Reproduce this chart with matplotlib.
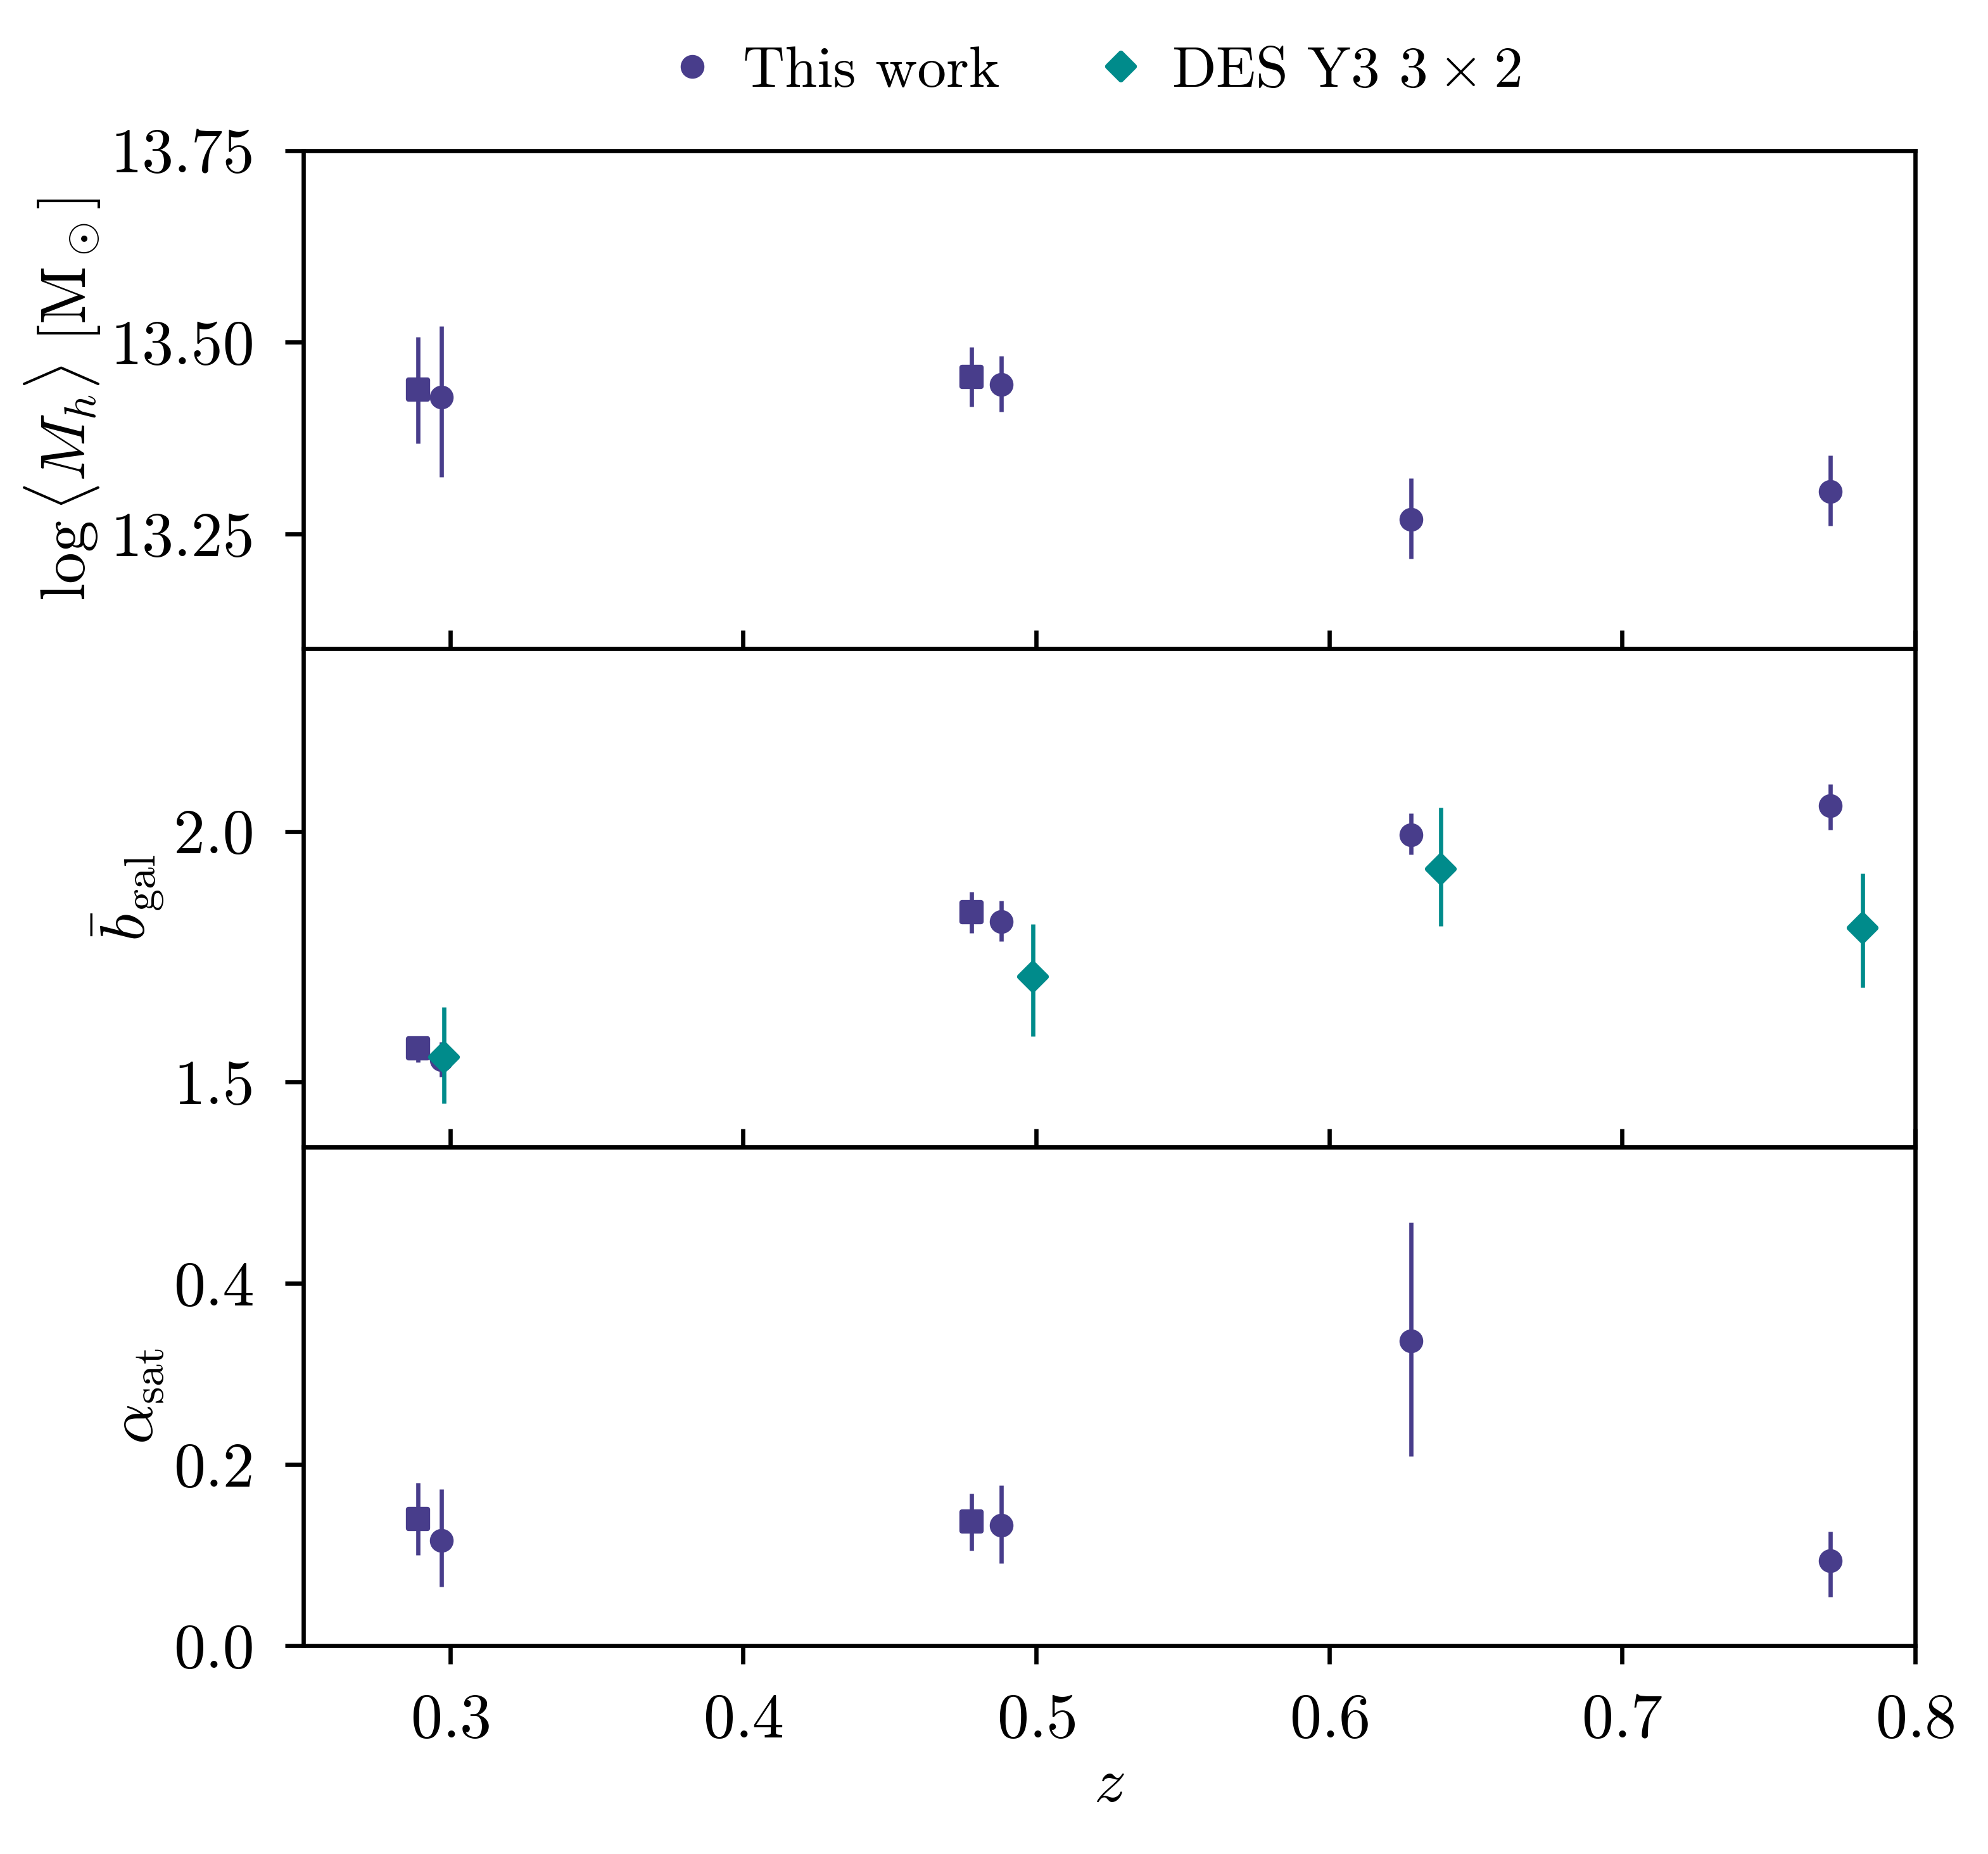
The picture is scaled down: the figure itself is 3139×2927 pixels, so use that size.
import matplotlib
matplotlib.use("Agg")
import matplotlib.pyplot as plt
from matplotlib.lines import Line2D
from matplotlib.markers import MarkerStyle

# redshifts of each sample
z_this = [0.297, 0.488, 0.628, 0.771]
z_sq = [0.289, 0.478]
z_des = [0.298, 0.499, 0.638, 0.782]

# log <M_h>
mh_this = [13.428, 13.445, 13.269, 13.305]
mh_this_lo = [0.104, 0.036, 0.051, 0.044]
mh_this_hi = [0.093, 0.037, 0.054, 0.047]
mh_sq = [13.438, 13.455]
mh_sq_lo = [0.070, 0.039]
mh_sq_hi = [0.069, 0.039]

# mean galaxy bias
b_this = [1.545, 1.820, 1.993, 2.051]
b_this_lo = [0.035, 0.039, 0.039, 0.048]
b_this_hi = [0.035, 0.042, 0.043, 0.043]
b_sq = [1.568, 1.839]
b_sq_lo = [0.028, 0.042]
b_sq_hi = [0.024, 0.040]
b_des = [1.550, 1.710, 1.925, 1.808]
b_des_lo = [0.092, 0.118, 0.114, 0.119]
b_des_hi = [0.099, 0.105, 0.122, 0.108]

# alpha_sat
a_this = [0.116, 0.133, 0.336, 0.094]
a_this_lo = [0.051, 0.042, 0.127, 0.040]
a_this_hi = [0.057, 0.044, 0.131, 0.032]
a_sq = [0.140, 0.137]
a_sq_lo = [0.040, 0.032]
a_sq_hi = [0.040, 0.031]

purple = "#483D8B"
teal = "#008B8B"

plt.rcParams["font.family"] = "serif"
plt.rcParams["font.serif"] = ["cmr10"]
plt.rcParams["mathtext.fontset"] = "cm"
plt.rcParams["axes.unicode_minus"] = False
plt.rcParams["axes.formatter.use_mathtext"] = True
plt.rcParams["font.size"] = 12
plt.rcParams["xtick.major.pad"] = 5.5
plt.rcParams["ytick.major.pad"] = 5.8

circ = MarkerStyle("o", joinstyle="round")
sq = MarkerStyle("s", joinstyle="round")
dia = MarkerStyle("D", joinstyle="round")
kw = dict(ls="none", ms=3.5, elinewidth=0.8, capsize=0)

fig, axes = plt.subplots(3, 1, figsize=(3139 / 600, 2927 / 600), sharex=True)
fig.subplots_adjust(left=0.1527, right=0.9634, top=0.9188, bottom=0.1124, hspace=0)
ax1, ax2, ax3 = axes

ax1.errorbar(z_sq, mh_sq, yerr=[mh_sq_lo, mh_sq_hi], marker=sq, color=purple, **kw)
ax1.errorbar(z_this, mh_this, yerr=[mh_this_lo, mh_this_hi], marker=circ, color=purple, **kw)

ax2.errorbar(z_sq, b_sq, yerr=[b_sq_lo, b_sq_hi], marker=sq, color=purple, **kw)
ax2.errorbar(z_this, b_this, yerr=[b_this_lo, b_this_hi], marker=circ, color=purple, **kw)
ax2.errorbar(z_des, b_des, yerr=[b_des_lo, b_des_hi], marker=dia, color=teal, **kw)

ax3.errorbar(z_sq, a_sq, yerr=[a_sq_lo, a_sq_hi], marker=sq, color=purple, **kw)
ax3.errorbar(z_this, a_this, yerr=[a_this_lo, a_this_hi], marker=circ, color=purple, **kw)

ax3.set_xlim(0.25, 0.8)
ax3.set_xticks([0.3, 0.4, 0.5, 0.6, 0.7, 0.8])
ax3.set_xlabel(r"$z$", labelpad=1.5)

ax1.set_ylim(13.1, 13.75)
ax1.set_yticks([13.25, 13.50, 13.75])
ax1.set_yticklabels(["13.25", "13.50", "13.75"])
ax1.set_ylabel(r"$\log\langle M_h\rangle\ [\mathrm{M}_\odot]$", labelpad=1.5)

ax2.set_ylim(1.370, 2.364)
ax2.set_yticks([1.5, 2.0])
ax2.set_yticklabels(["1.5", "2.0"])
ax2.set_ylabel(r"$\bar{b}_{\rm gal}$", labelpad=1.5)

ax3.set_ylim(0.0, 0.55)
ax3.set_yticks([0.0, 0.2, 0.4])
ax3.set_yticklabels(["0.0", "0.2", "0.4"])
ax3.set_ylabel(r"$\alpha_{\rm sat}$", labelpad=1.5)

for ax in (ax1, ax2):
    ax.tick_params(axis="x", direction="in", labelbottom=False)

handles = [
    Line2D([], [], ls="none", marker=circ, ms=3.5, color=purple),
    Line2D([], [], ls="none", marker=dia, ms=3.5, color=teal),
]
ax1.legend(handles, ["This work", r"DES Y3 $3\times2$"], loc="lower center",
           bbox_to_anchor=(0.491, 1.0), ncol=2, frameon=False, fontsize=11,
           handlelength=0.8, handletextpad=0.47, columnspacing=1.7)

fig.savefig("out.png", dpi=600)
